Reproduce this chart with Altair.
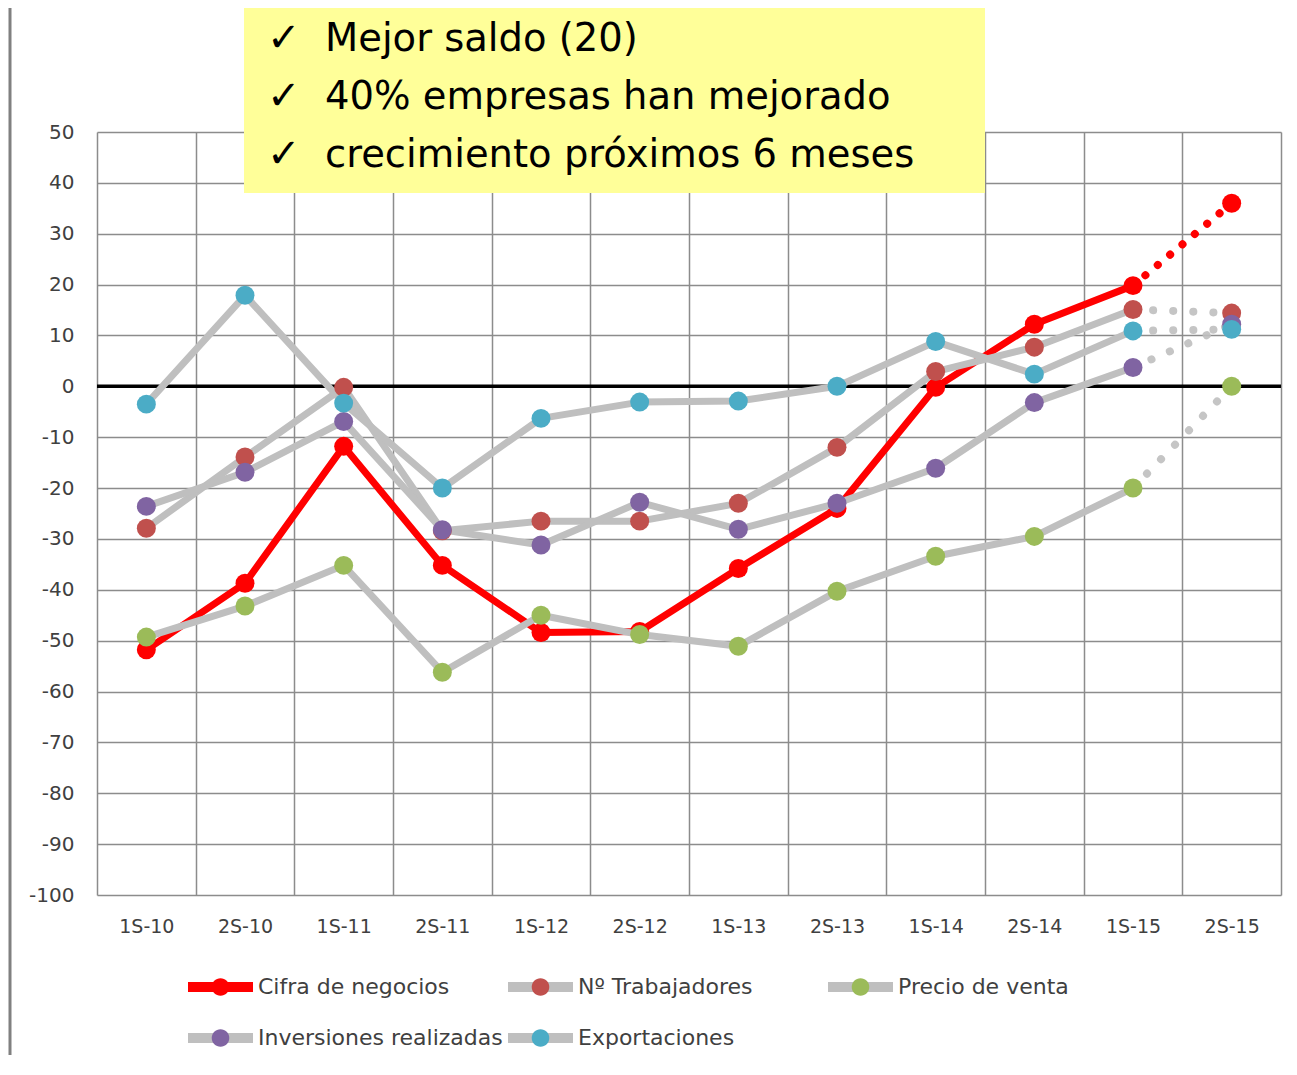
import altair as alt
import pandas as pd

categories = ["1S-10", "2S-10", "1S-11", "2S-11", "1S-12", "2S-12",
              "1S-13", "2S-13", "1S-14", "2S-14", "1S-15", "2S-15"]
series_names = ["Cifra de negocios", "Nº Trabajadores", "Precio de venta",
                "Inversiones realizadas", "Exportaciones"]

cifra = [-51.8, -38.7, -11.8, -35.2, -48.4, -48.2, -35.8, -24.0, -0.2, 12.2, 19.8, 36.0]
trabajadores = [-27.9, -13.9, -0.2, -28.4, -26.5, -26.5, -23.0, -12.0, 2.9, 7.7, 15.1, 14.4]
precio = [-49.3, -43.2, -35.2, -56.2, -45.0, -48.8, -51.1, -40.3, -33.4, -29.5, -20.0, 0.0]
inversiones = [-23.6, -16.9, -6.9, -28.2, -31.2, -22.8, -28.1, -23.0, -16.1, -3.2, 3.7, 12.2]
exportaciones = [-3.5, 17.9, -3.3, -20.0, -6.3, -3.1, -2.9, 0.0, 8.8, 2.4, 10.9, 11.2]

marker_colors = ["#ff0000", "#c0504d", "#9bbb59", "#8064a2", "#4bacc6"]
line_colors = ["#ff0000", "#bfbfbf", "#bfbfbf", "#bfbfbf", "#bfbfbf"]
notes = ["Mejor saldo (20)", "40% empresas han mejorado", "crecimiento próximos 6 meses"]
checks = ["✓", "✓", "✓"]

FONT = "DejaVu Sans"
TXT = "#404040"
GRID = "#8c8c8c"

# the marker legend needs a domain that differs from the line legend's
# (otherwise Vega-Lite merges them): a trailing space, trimmed in the labels
marker_names = [n + " " for n in series_names]

rows = []
for name, mname, vals in zip(series_names, marker_names,
                             [cifra, trabajadores, precio, inversiones, exportaciones]):
    for i, (c, v) in enumerate(zip(categories, vals)):
        rows.append({"cat": c, "idx": i, "series": name, "serie": mname, "value": v})
df = pd.DataFrame(rows)

W, H = 1184, 763

x_enc = alt.X("cat:N", sort=categories,
              scale=alt.Scale(type="band", paddingInner=0, paddingOuter=0),
              axis=alt.Axis(title=None, tickBand="extent", grid=True, gridColor=GRID,
                            gridWidth=1.5, ticks=False, domain=False, labelAngle=0,
                            labelFont=FONT, labelFontSize=19, labelColor=TXT,
                            labelPadding=22))
y_enc = alt.Y("value:Q", scale=alt.Scale(domain=[-100, 50], nice=False, zero=False),
              axis=alt.Axis(title=None, values=list(range(-100, 51, 10)), grid=True,
                            gridColor=GRID, gridWidth=1.5, ticks=False, tickSize=0,
                            domain=False, labelFont=FONT, labelFontSize=20,
                            labelColor=TXT, labelPadding=23,
                            labelExpr="'' + datum.value"))

circle_path = ("M-0.27,0 A0.27,0.27 0 1,0 0.27,0 A0.27,0.27 0 1,0 -0.27,0 Z")

common_leg = dict(orient="none", legendX=86, legendY=840, direction="horizontal",
                  columns=3, gridAlign="all",
                  columnPadding=0, rowPadding=21, clipHeight=30, symbolSize=4225,
                  symbolStrokeWidth=10, labelFont=FONT, labelFontSize=22,
                  labelOffset=0, labelLimit=500, title=None, padding=0,
                  labelExpr="trim(datum.label)")

stroke_enc = alt.Stroke("series:N",
                        scale=alt.Scale(domain=series_names, range=line_colors),
                        legend=alt.Legend(symbolType="stroke", labelColor=TXT, zindex=1,
                                          **common_leg))
fill_enc = alt.Fill("serie:N",
                    scale=alt.Scale(domain=marker_names, range=marker_colors),
                    legend=alt.Legend(symbolType=circle_path, labelColor="transparent",
                                      symbolStrokeColor="transparent",
                                      symbolOpacity=1, zindex=2,
                                      **common_leg))
color_enc = alt.Color("series:N",
                      scale=alt.Scale(domain=series_names, range=line_colors),
                      legend=None)

base = alt.Chart(df)
red = alt.datum.series == series_names[0]
grey = alt.datum.series != series_names[0]
solid = alt.datum.idx <= 10
dotted = alt.datum.idx >= 10

zero = alt.Chart(pd.DataFrame({"z": [0]})).mark_rule(color="black", strokeWidth=3.5).encode(
    y=alt.Y("z:Q"))

red_line = base.transform_filter(red).transform_filter(solid).mark_line(
    strokeWidth=7, strokeCap="round", strokeJoin="round").encode(
    x=x_enc, y=y_enc, stroke=stroke_enc, order="idx:Q")
red_dot = base.transform_filter(red).transform_filter(dotted).mark_line(
    strokeWidth=8, strokeCap="round", strokeDash=[0.1, 16]).encode(
    x=x_enc, y=y_enc, color=color_enc, order="idx:Q")
red_pts = base.transform_filter(red).mark_circle(size=360, opacity=1).encode(
    x=x_enc, y=y_enc, fill=fill_enc)

grey_line = base.transform_filter(grey).transform_filter(solid).mark_line(
    strokeWidth=7, strokeCap="round", strokeJoin="round").encode(
    x=x_enc, y=y_enc, stroke=stroke_enc, order="idx:Q")
grey_dot = base.transform_filter(grey).transform_filter(dotted).mark_line(
    strokeWidth=8, strokeCap="round", strokeDash=[0.1, 20], opacity=0.9).encode(
    x=x_enc, y=y_enc, color=color_enc, order="idx:Q")
grey_pts = base.transform_filter(grey).mark_circle(size=360, opacity=1).encode(
    x=x_enc, y=y_enc, fill=fill_enc)

one = pd.DataFrame({"a": [0]})
box = alt.Chart(one).mark_rect(color="#ffff99").encode(
    x=alt.value(147), x2=alt.value(888), y=alt.value(-124), y2=alt.value(61))
check_txt = alt.Chart(one).mark_text(
    text=checks, lineHeight=58, align="left", baseline="alphabetic",
    font="DejaVu Sans", fontSize=40, fontWeight="bold", color="black").encode(
    x=alt.value(170), y=alt.value(-81))
note_txt = alt.Chart(one).mark_text(
    text=notes, lineHeight=58, align="left", baseline="alphabetic",
    font=FONT, fontSize=38.5, color="black").encode(
    x=alt.value(228), y=alt.value(-81))
border = alt.Chart(one).mark_rule(color="#808080", strokeWidth=3).encode(
    x=alt.value(-87), y=alt.value(-124), y2=alt.value(H + 160))

chart = alt.layer(
    zero, red_line, red_dot, red_pts, grey_line, grey_dot, grey_pts,
    box, check_txt, note_txt, border
).properties(
    width=W, height=H,
    autosize=alt.AutoSizeParams(type="none"),
    padding={"left": 89, "top": 124, "right": 8, "bottom": 160},
).configure_view(stroke=None)

chart.save("out.html", embed_options={"renderer": "svg", "actions": False})
